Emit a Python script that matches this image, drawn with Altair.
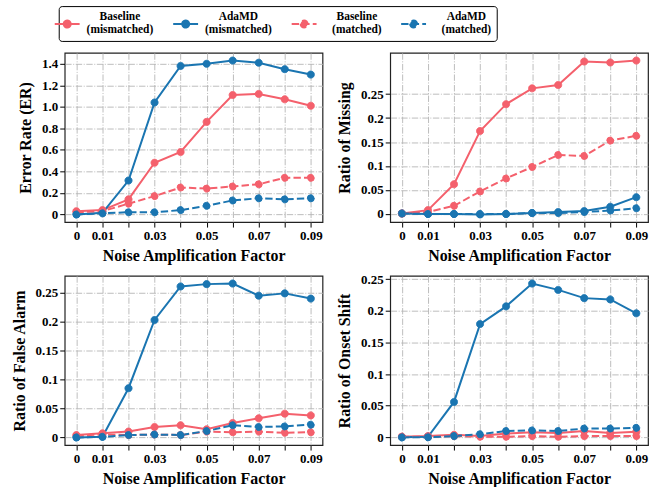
import altair as alt
import pandas as pd

# Noise amplification factors on the x axis
noise = [0.0, 0.01, 0.02, 0.03, 0.04, 0.05, 0.06, 0.07, 0.08, 0.09]
x_label_ticks = [0, 1, 3, 5, 7, 9]  # hundredths that carry a printed label

series_names = ["Baseline (mismatched)", "AdaMD (mismatched)",
                "Baseline (matched)", "AdaMD (matched)"]

# Error Rate (ER)
er_base_mis = [0.03, 0.04, 0.14, 0.48, 0.58, 0.86, 1.11, 1.12, 1.07, 1.01]
er_ada_mis = [0.00, 0.015, 0.315, 1.04, 1.38, 1.40, 1.43, 1.41, 1.35, 1.30]
er_base_mat = [0.02, 0.03, 0.10, 0.17, 0.25, 0.24, 0.26, 0.28, 0.34, 0.34]
er_ada_mat = [0.00, 0.01, 0.02, 0.02, 0.04, 0.08, 0.13, 0.15, 0.14, 0.15]

# Ratio of Missing
miss_base_mis = [0.001, 0.008, 0.062, 0.173, 0.229, 0.262, 0.269, 0.318, 0.316, 0.320]
miss_ada_mis = [0.001, 0.000, 0.000, -0.001, 0.000, 0.002, 0.004, 0.006, 0.015, 0.035]
miss_base_mat = [0.001, 0.004, 0.017, 0.047, 0.074, 0.098, 0.123, 0.121, 0.153, 0.163]
miss_ada_mat = [0.001, 0.000, 0.000, 0.000, 0.000, 0.002, 0.002, 0.004, 0.007, 0.012]

# Ratio of False Alarm
fa_base_mis = [0.004, 0.007, 0.010, 0.018, 0.021, 0.014, 0.025, 0.033, 0.041, 0.038]
fa_ada_mis = [0.000, 0.001, 0.085, 0.203, 0.261, 0.265, 0.266, 0.245, 0.249, 0.240]
fa_base_mat = [0.003, 0.005, 0.004, 0.005, 0.004, 0.010, 0.009, 0.010, 0.008, 0.009]
fa_ada_mat = [0.000, 0.001, 0.004, 0.005, 0.004, 0.011, 0.021, 0.018, 0.019, 0.022]

# Ratio of Onset Shift
os_base_mis = [0.001, 0.002, 0.004, 0.002, 0.006, 0.008, 0.007, 0.010, 0.007, 0.009]
os_ada_mis = [0.000, 0.001, 0.056, 0.179, 0.207, 0.243, 0.233, 0.220, 0.218, 0.196]
os_base_mat = [0.001, 0.001, 0.002, 0.001, 0.001, 0.002, 0.001, 0.002, 0.002, 0.002]
os_ada_mat = [0.000, 0.000, 0.002, 0.005, 0.010, 0.011, 0.010, 0.014, 0.014, 0.015]

RED = "#f4606c"
BLUE = "#1a75b1"
DASH = [7.4, 3.2]
FONT = "Liberation Serif"


def long_table(*columns):
    rows = []
    for name, vals in zip(series_names, columns):
        for x, v in zip(noise, vals):
            rows.append({"noise": x, "value": v, "series": name,
                         "matched": name.endswith("(matched)")})
    return pd.DataFrame(rows)


# custom legend glyph: a 25px line with a dot in the middle (unit = 5px),
# dropped so it sits between the two label lines
GLYPH = ("M-2.5,1.4L2.5,1.4M-0.7,1.4A0.7,0.7,0,1,0,0.7,1.4"
         "A0.7,0.7,0,1,0,-0.7,1.4Z")

legend = alt.Legend(
    title=None, orient="none", legendX=-6, legendY=-47,
    direction="horizontal", columns=4, columnPadding=15,
    symbolType=GLYPH, symbolSize=100, symbolStrokeWidth=2, symbolOffset=-2.5,
    labelExpr="split(datum.label, ' ')", labelAlign="center",
    labelOffset=47, labelFont=FONT, labelFontWeight="bold",
    labelFontSize=11.5, labelColor="black", labelLimit=300,
    padding=5, strokeColor="black", fillColor="white", cornerRadius=3,
)

color_scale = alt.Scale(domain=series_names, range=[RED, BLUE, RED, BLUE])
dash_scale = alt.Scale(domain=series_names,
                       range=[[1, 0], [1, 0], DASH, DASH])

x_label_expr = (
    "indexof(" + str(x_label_ticks) + ", round(datum.value * 100)) >= 0 ? "
    "(datum.value == 0 ? '0' : format(datum.value, '.2f')) : ''"
)
hue_expr = "indexof(datum.series, 'Baseline') == 0 ? '%s' : '%s'" % (RED, BLUE)


def panel(df, title, domain, ticks, fmt):
    x = alt.X("noise:Q",
              scale=alt.Scale(domain=[-0.0045, 0.0945], nice=False, zero=False),
              axis=alt.Axis(values=noise, title="Noise Amplification Factor",
                            labelExpr=x_label_expr, labelOverlap=False,
                            labelFlush=False, titlePadding=6))
    y = alt.Y("value:Q",
              scale=alt.Scale(domain=domain, nice=False, zero=False),
              axis=alt.Axis(values=ticks, title=title, titlePadding=8,
                            labelExpr="datum.value == 0 ? '0' : format(datum.value, '%s')" % fmt))
    base = alt.Chart(df)
    # lines take their colour straight from the data (no scale, no legend)
    lines = base.transform_calculate(hue=hue_expr)
    hue = alt.Color("hue:N", scale=None)
    solid = lines.transform_filter("!datum.matched").mark_line(
        strokeWidth=2).encode(x=x, y=y, color=hue, detail="series:N")
    dashed = lines.transform_filter("datum.matched").mark_line(
        strokeWidth=2, strokeDash=DASH).encode(x=x, y=y, color=hue, detail="series:N")
    points = base.mark_point(filled=True, size=50, strokeWidth=1, opacity=1).encode(
        x=x, y=y,
        fill=alt.Fill("series:N", scale=color_scale, legend=legend),
        stroke=alt.Stroke("series:N", scale=color_scale, legend=legend),
        strokeDash=alt.StrokeDash("series:N", scale=dash_scale, legend=legend),
    )
    return alt.layer(solid, dashed, points).properties(width=259, height=170)


p_er = panel(long_table(er_base_mis, er_ada_mis, er_base_mat, er_ada_mat),
             "Error Rate (ER)", [-0.0715, 1.5015],
             [0, 0.2, 0.4, 0.6, 0.8, 1.0, 1.2, 1.4], ".1f")
p_miss = panel(long_table(miss_base_mis, miss_ada_mis, miss_base_mat, miss_ada_mat),
               "Ratio of Missing", [-0.017, 0.336],
               [0, 0.05, 0.1, 0.15, 0.2, 0.25], "~g")
p_fa = panel(long_table(fa_base_mis, fa_ada_mis, fa_base_mat, fa_ada_mat),
             "Ratio of False Alarm", [-0.0133, 0.2793],
             [0, 0.05, 0.1, 0.15, 0.2, 0.25], "~g")
p_os = panel(long_table(os_base_mis, os_ada_mis, os_base_mat, os_ada_mat),
             "Ratio of Onset Shift", [-0.0122, 0.2552],
             [0, 0.05, 0.1, 0.15, 0.2, 0.25], "~g")

top = alt.hconcat(p_er, p_miss, spacing=12).resolve_scale(x="independent", y="independent")
bottom = alt.hconcat(p_fa, p_os, spacing=12).resolve_scale(x="independent", y="independent")

chart = alt.vconcat(top, bottom, spacing=7).resolve_scale(
    x="independent", y="independent"
).properties(
    padding={"left": 10, "top": 4, "right": 5, "bottom": 0}
).configure_view(
    stroke="#222", strokeWidth=1.2
).configure_axis(
    labelFont=FONT, labelFontWeight="bold", labelFontSize=13, labelColor="black",
    titleFont=FONT, titleFontWeight="bold", titleFontSize=16, titleColor="black",
    gridColor="#b5b5b5", gridDash=[6.4, 1.6, 1, 1.6], gridWidth=0.9,
    tickColor="black", tickSize=5, tickWidth=1, domain=False,
    labelPadding=2,
)

chart.save("out.html", embed_options={"renderer": "svg", "actions": False})
